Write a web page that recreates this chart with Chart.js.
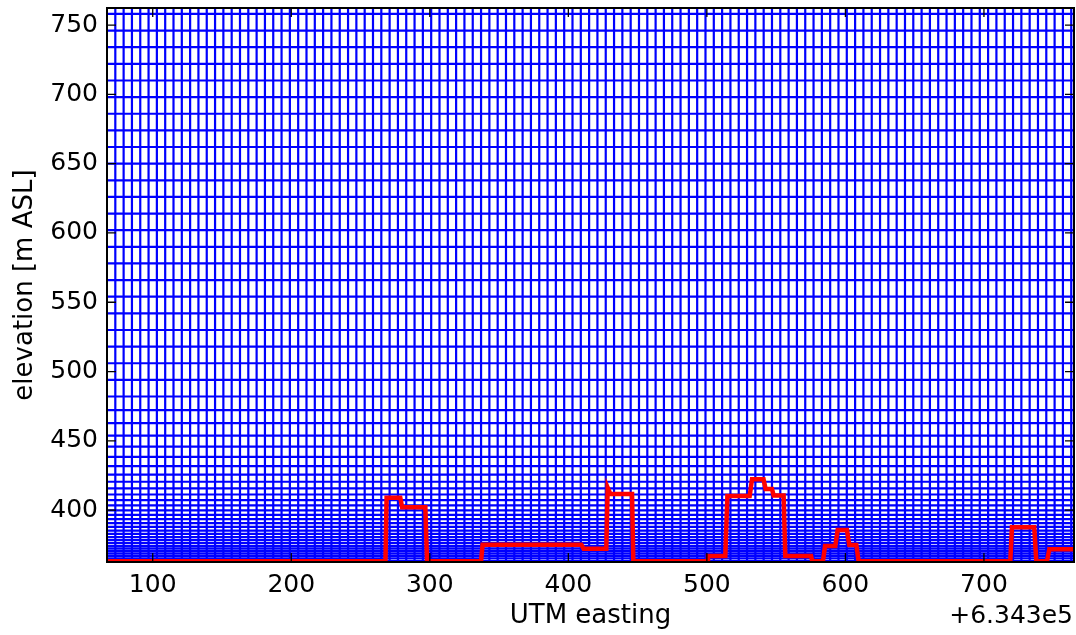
<!DOCTYPE html>
<html><head><meta charset="utf-8">
<script src="https://cdn.jsdelivr.net/npm/chart.js"></script>
<style>html,body{margin:0;padding:0;background:#fff}#wrap{width:1076px;height:635px}</style>
</head><body><div id="wrap"><canvas id="c" width="1076" height="635"></canvas></div>
<script>
const xTickValues = [100, 200, 300, 400, 500, 600, 700];
const yTickValues = [400, 450, 500, 550, 600, 650, 700, 750];
const xRange = [67, 765];
const yRange = [362.6, 762.3];
const xTitle = 'UTM easting';
const yTitle = 'elevation [m ASL]';
const offsetText = '+6.343e5';

// mesh column boundaries (UTM easting offset)
const meshX = [73, 79, 85, 91, 97, 103, 109, 115, 121, 127, 133, 139, 145, 151, 157, 163, 169, 175, 181, 187,
  193, 199, 205, 211, 217, 223, 229, 235, 241, 247, 253, 259, 265, 271, 277, 283, 289, 295, 301, 307,
  313, 319, 325, 331, 337, 343, 349, 355, 361, 367, 373, 379, 385, 391, 397, 403, 409, 415, 421, 427,
  433, 439, 445, 451, 457, 463, 469, 475, 481, 487, 493, 499, 505, 511, 517, 523, 529, 535, 541, 547,
  553, 559, 565, 571, 577, 583, 589, 595, 601, 607, 613, 619, 625, 631, 637, 643, 649, 655, 661, 667,
  673, 679, 685, 691, 697, 703, 709, 715, 721, 727, 733, 739, 745, 751, 757, 763];

// mesh layer boundaries (elevation)
const meshZ = [363.5, 365.3, 367.0, 368.8, 370.6, 372.4, 374.3, 376.3, 378.4, 380.6, 382.9, 385.3, 387.9,
  390.6, 393.5, 396.6, 399.9, 403.4, 407.2, 411.3, 415.7, 420.5, 425.7, 431.7, 438.4, 445.8, 453.8, 462.8,
  472.2, 482, 494, 506, 518, 530, 542, 554, 566, 578, 590, 602, 614, 626, 638, 650, 662, 674, 686, 698,
  710, 722, 734, 746, 758];

// terrain / building profile
const terrainX = [67, 268.0, 268.8, 278.7, 280.0, 296.8, 298.0, 337.0, 338.1, 409.4, 411.0, 427.4, 428.4, 430.3,
  446.0, 446.9, 500.5, 500.8, 513.3, 514.8, 530.9, 532.6, 540.9, 542.4, 547.0, 548.2, 555.4, 556.6,
  575.2, 576.1, 583.8, 585.3, 592.7, 594.4, 601.1, 602.8, 607.9, 609.5, 719.0, 720.2, 736.3, 737.8,
  745.5, 747.2, 765];
const terrainZ = [363.2, 363.2, 409.0, 409.0, 402.1, 402.1, 363.2, 363.2, 375.1, 375.1, 372.2, 372.2, 416.2, 411.7,
  411.7, 363.2, 363.2, 367.0, 367.0, 410.2, 410.2, 422.3, 422.3, 415.3, 415.3, 410.5, 410.5, 367.0,
  367.0, 363.2, 363.2, 374.2, 374.2, 385.7, 385.7, 374.9, 374.9, 363.2, 363.2, 387.7, 387.7, 363.2,
  363.2, 371.8, 371.8];

const FONT = 'DejaVu Sans';

const vertData = [];
meshX.forEach(v => { vertData.push({x: v, y: 340}, {x: v, y: 790}, {x: v, y: null}); });
const horData = [];
meshZ.forEach(z => { horData.push({x: 40, y: z}, {x: 790, y: z}, {x: 790, y: null}); });
const terrainData = terrainX.map((x, i) => ({x: x, y: terrainZ[i]}));

const framePlugin = {
  id: 'frame',
  afterDraw(chart) {
    const {ctx, chartArea: a, scales: {x, y}} = chart;
    ctx.save();
    ctx.strokeStyle = '#000';
    ctx.lineWidth = 1.3;
    ctx.beginPath();
    xTickValues.forEach(v => {
      const px = x.getPixelForValue(v);
      ctx.moveTo(px, a.bottom); ctx.lineTo(px, a.bottom - 9);
      ctx.moveTo(px, a.top); ctx.lineTo(px, a.top + 9);
    });
    yTickValues.forEach(v => {
      const py = y.getPixelForValue(v);
      ctx.moveTo(a.left, py); ctx.lineTo(a.left + 9, py);
      ctx.moveTo(a.right, py); ctx.lineTo(a.right - 9, py);
    });
    ctx.stroke();
    ctx.lineWidth = 2;
    ctx.strokeRect(a.left, a.top, a.right - a.left, a.bottom - a.top);
    ctx.fillStyle = '#000';
    ctx.font = '25px "' + FONT + '"';
    ctx.textAlign = 'right';
    ctx.textBaseline = 'alphabetic';
    ctx.fillText(offsetText, a.right - 1, 623);
    ctx.restore();
  }
};

new Chart(document.getElementById('c'), {
  type: 'scatter',
  data: {
    datasets: [
      {data: terrainData, showLine: true, borderColor: '#ff0000', borderWidth: 4.5, pointRadius: 0, tension: 0, order: 0, borderJoinStyle: 'miter'},
      {data: vertData, showLine: true, borderColor: '#0000ff', borderWidth: 2.2, pointRadius: 0, spanGaps: false, order: 1},
      {data: horData, showLine: true, borderColor: '#0000ff', borderWidth: 2.2, pointRadius: 0, spanGaps: false, order: 2}
    ]
  },
  options: {
    responsive: false,
    animation: false,
    devicePixelRatio: 1,
    layout: {padding: {top: 8, right: 2, left: 0, bottom: 0}},
    plugins: {legend: {display: false}, tooltip: {enabled: false}},
    scales: {
      x: {
        type: 'linear', min: xRange[0], max: xRange[1],
        afterBuildTicks: s => { s.ticks = xTickValues.map(v => ({value: v})); },
        afterFit: s => { s.height = 73; s.paddingLeft = 0; s.paddingRight = 0; },
        grid: {display: false},
        border: {display: false},
        ticks: {color: '#000', padding: 0, font: {family: FONT, size: 25}, maxRotation: 0, autoSkip: false},
        title: {display: true, text: xTitle, color: '#000', font: {family: FONT, size: 26}, padding: {top: 0, bottom: 3}}
      },
      y: {
        type: 'linear', min: yRange[0], max: yRange[1],
        afterBuildTicks: s => { s.ticks = yTickValues.map(v => ({value: v})); },
        afterFit: s => { s.width = 107; s.paddingTop = 0; s.paddingBottom = 0; },
        grid: {display: false},
        border: {display: false},
        ticks: {color: '#000', padding: 1, font: {family: FONT, size: 25}, autoSkip: false},
        title: {display: true, text: yTitle, color: '#000', font: {family: FONT, size: 26}, padding: {top: 10, bottom: 0}}
      }
    }
  },
  plugins: [framePlugin]
});
</script>
</body></html>
